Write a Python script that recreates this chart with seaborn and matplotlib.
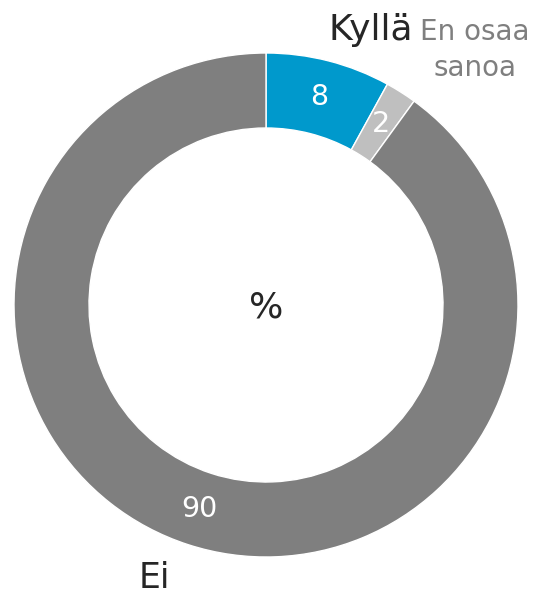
import numpy as np
import matplotlib
matplotlib.use("Agg")
import matplotlib.pyplot as plt
import seaborn as sns

categories = ["Kyllä", "En osaa sanoa", "Ei"]
values = [8, 2, 90]
colors = ["#0099CC", "#BFBFBF", "#7F7F7F"]
label_colors = ["#262626", "#7F7F7F", "#262626"]

sns.set_theme(style="white")
plt.rcParams['font.family'] = ['DejaVu Sans']

W, H = 539, 595
fig = plt.figure(figsize=(W / 100, H / 100), dpi=100)
ax = fig.add_axes([0, 0, 1, 1])

cx, cy = 266, H - 305
r_out, width = 252, 75
wedges, _ = ax.pie(values, colors=colors, startangle=90, counterclock=False,
                   center=(cx, cy), radius=r_out,
                   wedgeprops=dict(width=width, edgecolor="white", linewidth=1))

# values in the middle of the ring
r_mid = r_out - width / 2
for w, v in zip(wedges, values):
    ang = np.deg2rad((w.theta1 + w.theta2) / 2)
    ax.text(cx + r_mid * np.cos(ang), cy + r_mid * np.sin(ang), str(v),
            color="white", fontsize=20.5, ha="center", va="center")

ax.text(cx, H - 307, "%", fontsize=26, color="#262626", ha="center", va="center")

# category labels
ax.text(371, H - 30, categories[0], fontsize=26, color=label_colors[0],
        ha="center", va="center")
ax.text(475, H - 50, "En osaa\nsanoa", fontsize=20, color=label_colors[1],
        ha="center", va="center", linespacing=1.4)
ax.text(154, H - 578, categories[2], fontsize=25, color=label_colors[2],
        ha="center", va="center")

ax.set_xlim(0, W)
ax.set_ylim(0, H)
ax.set_aspect("equal")
ax.axis("off")

plt.savefig("out.png", dpi=100)
